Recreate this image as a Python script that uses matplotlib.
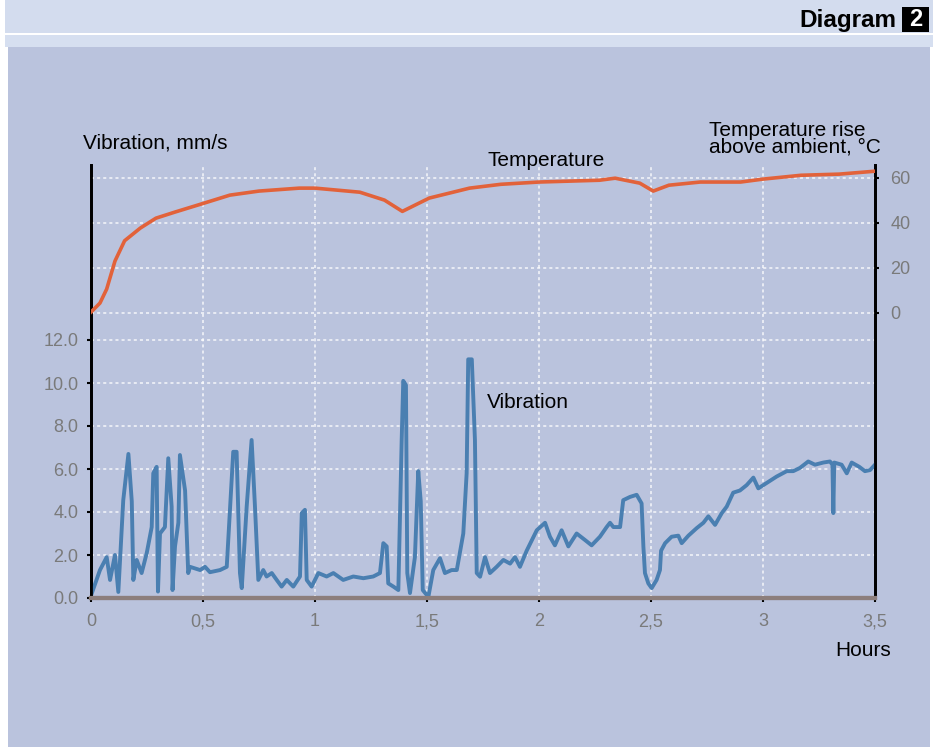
import numpy as np
import matplotlib.pyplot as plt
from matplotlib.patches import Rectangle
from matplotlib.ticker import FixedLocator, FixedFormatter

plt.rcParams['font.family'] = ['Liberation Sans', 'DejaVu Sans']

# vibration, mm/s against running time in hours
vib_hours = [0.003, 0.040, 0.070, 0.085, 0.107, 0.122, 0.144, 0.167, 0.182, 0.189,
             0.204, 0.226, 0.249, 0.271, 0.278, 0.293, 0.299, 0.308, 0.330, 0.345,
             0.360, 0.364, 0.375, 0.390, 0.397, 0.420, 0.434, 0.442, 0.487, 0.509,
             0.531, 0.576, 0.606, 0.621, 0.635, 0.650, 0.665, 0.673, 0.695, 0.717,
             0.732, 0.747, 0.769, 0.784, 0.807, 0.829, 0.851, 0.874, 0.903, 0.933,
             0.941, 0.955, 0.963, 0.985, 1.015, 1.052, 1.082, 1.126, 1.171, 1.216,
             1.260, 1.290, 1.305, 1.320, 1.327, 1.350, 1.372, 1.387, 1.394, 1.406,
             1.412, 1.424, 1.446, 1.461, 1.472, 1.481, 1.506, 1.528, 1.558, 1.580,
             1.610, 1.633, 1.662, 1.677, 1.684, 1.700, 1.714, 1.722, 1.737, 1.759,
             1.781, 1.811, 1.841, 1.871, 1.893, 1.915, 1.945, 1.990, 2.027, 2.049,
             2.071, 2.101, 2.131, 2.168, 2.205, 2.235, 2.272, 2.302, 2.317, 2.332,
             2.362, 2.376, 2.406, 2.436, 2.458, 2.466, 2.473, 2.488, 2.503, 2.525,
             2.540, 2.545, 2.563, 2.592, 2.622, 2.637, 2.667, 2.704, 2.734, 2.756,
             2.786, 2.816, 2.838, 2.867, 2.897, 2.927, 2.957, 2.979, 3.016, 3.061,
             3.106, 3.135, 3.165, 3.202, 3.232, 3.269, 3.299, 3.310, 3.314, 3.318,
             3.351, 3.374, 3.396, 3.430, 3.455, 3.478, 3.500]
vib_values = [0.2, 1.3, 1.9, 0.84, 2.0, 0.28, 4.55, 6.7, 4.5, 0.84,
              1.77, 1.16, 2.1, 3.3, 5.8, 6.1, 0.3, 3.0, 3.3, 6.5,
              4.25, 0.37, 2.4, 3.5, 6.65, 5.0, 1.16, 1.45, 1.3, 1.45,
              1.2, 1.3, 1.45, 4.25, 6.8, 6.8, 1.16, 0.46, 4.25, 7.35,
              4.25, 0.84, 1.3, 1.0, 1.16, 0.84, 0.53, 0.84, 0.53, 1.0,
              3.95, 4.1, 0.84, 0.53, 1.16, 1.0, 1.16, 0.84, 1.0, 0.92,
              1.0, 1.16, 2.55, 2.4, 0.68, 0.53, 0.37, 7.35, 10.1, 9.9,
              1.16, 0.23, 1.9, 5.9, 4.5, 0.37, 0.05, 1.3, 1.85, 1.16,
              1.3, 1.3, 3.0, 5.8, 11.1, 11.1, 7.35, 1.16, 0.99, 1.9,
              1.16, 1.45, 1.77, 1.6, 1.9, 1.45, 2.2, 3.15, 3.5, 2.85,
              2.45, 3.15, 2.4, 3.0, 2.7, 2.45, 2.85, 3.3, 3.5, 3.3,
              3.3, 4.55, 4.7, 4.8, 4.4, 2.4, 1.16, 0.68, 0.46, 0.84,
              1.3, 2.2, 2.55, 2.85, 2.9, 2.55, 2.9, 3.25, 3.5, 3.8,
              3.4, 3.95, 4.25, 4.9, 5.0, 5.25, 5.6, 5.1, 5.35, 5.65,
              5.9, 5.9, 6.05, 6.35, 6.2, 6.3, 6.35, 6.2, 3.95, 6.3,
              6.2, 5.8, 6.3, 6.1, 5.9, 5.95, 6.2]

# temperature rise above ambient, deg C
temp_hours = [0.0, 0.04, 0.07, 0.107, 0.15, 0.22, 0.29, 0.375, 0.49, 0.62,
              0.75, 0.93, 1.0, 1.2, 1.31, 1.39, 1.51, 1.69, 1.83, 2.0,
              2.27, 2.34, 2.45, 2.51, 2.58, 2.72, 2.9, 3.0, 3.17, 3.34, 3.5]
temp_values = [0.4, 4.4, 10.6, 23.0, 32.0, 37.6, 42.0, 44.7, 48.2, 52.2,
               54.0, 55.3, 55.3, 53.5, 50.0, 45.0, 50.9, 55.3, 57.0, 58.0,
               58.8, 59.7, 57.5, 54.0, 56.6, 58.0, 58.0, 59.3, 61.0, 61.5, 62.8]

hour_ticks = [0, 0.5, 1, 1.5, 2, 2.5, 3, 3.5]
hour_labels = ['0', '0,5', '1', '1,5', '2', '2,5', '3', '3,5']
vib_ticks = [0, 2, 4, 6, 8, 10, 12]
vib_labels = ['0.0', '2.0', '4.0', '6.0', '8.0', '10.0', '12.0']
temp_ticks = [0, 20, 40, 60]
temp_labels = ['0', '20', '40', '60']

W, H = 936, 751
fig = plt.figure(figsize=(W / 100, H / 100), dpi=100)
fig.patch.set_facecolor('white')


def px(x, y):
    return x / W, 1 - y / H


# background layer in pixel units: header band, panel, number box
bg = fig.add_axes([0, 0, 1, 1], zorder=-1)
bg.set_xlim(0, W)
bg.set_ylim(H, 0)
bg.axis('off')
bg.add_patch(Rectangle((5, 0), 928, 33, facecolor='#d3dcee', edgecolor='none'))
bg.add_patch(Rectangle((5, 35), 928, 12, facecolor='#d6dff0', edgecolor='none'))
bg.add_patch(Rectangle((8, 47), 922, 700, facecolor='#bac3dd', edgecolor='none'))
bg.add_patch(Rectangle((902, 7), 27, 25, facecolor='black', edgecolor='none'))
bg.text(896, 20, 'Diagram', ha='right', va='center', fontsize=17.5, fontweight='bold')
bg.text(915.5, 20, '2', ha='center', va='center', fontsize=17, fontweight='bold',
        color='white')

ax = fig.add_axes([91 / W, 1 - 598 / H, 784 / W, 433 / H])
ax.patch.set_alpha(0)
ax2 = ax.twinx()

ax.set_xlim(0, 3.5)
ax.set_ylim(0, (598 - 165) / 21.5)
ax2.set_ylim(-(598 - 313) / 2.258, (313 - 165) / 2.258)

# white dotted grid on both scales
grid_kw = dict(color='white', lw=1.1, ls=(0, (2, 2)), alpha=0.85, zorder=0.5)
for t in hour_ticks[1:-1]:
    ax.axvline(t, **grid_kw)
for t in vib_ticks[1:]:
    ax.axhline(t, **grid_kw)
for t in temp_ticks:
    ax2.axhline(t, **grid_kw)

ax.plot(vib_hours, vib_values, color='#4a7fb1', lw=2.8, solid_joinstyle='round', zorder=3)
ax2.plot(temp_hours, temp_values, color='#e2623a', lw=2.6, solid_joinstyle='round', zorder=3)

ax.xaxis.set_major_locator(FixedLocator(hour_ticks))
ax.xaxis.set_major_formatter(FixedFormatter(hour_labels))
ax.yaxis.set_major_locator(FixedLocator(vib_ticks))
ax.yaxis.set_major_formatter(FixedFormatter(vib_labels))
ax2.yaxis.set_major_locator(FixedLocator(temp_ticks))
ax2.yaxis.set_major_formatter(FixedFormatter(temp_labels))

tick_kw = dict(length=3, width=1.5, color='black', labelcolor='#7a7a7a', labelsize=13)
ax.tick_params(axis='x', pad=8, **tick_kw)
ax.tick_params(axis='y', pad=6, **tick_kw)
ax2.tick_params(axis='y', pad=8, **tick_kw)

for a in (ax, ax2):
    a.spines['top'].set_visible(False)
    a.spines['left'].set_color('black')
    a.spines['left'].set_linewidth(2)
    a.spines['right'].set_color('black')
    a.spines['right'].set_linewidth(2)
    a.spines['bottom'].set_color('#8c7e7c')
    a.spines['bottom'].set_linewidth(3)

fig.text(*px(83, 143), 'Vibration, mm/s', ha='left', va='center', fontsize=15)
fig.text(*px(709, 139), 'Temperature rise\nabove ambient, °C', ha='left', va='center',
         fontsize=15, linespacing=0.85)
fig.text(*px(487, 160), 'Temperature', ha='left', va='center', fontsize=15)
fig.text(*px(487, 403), 'Vibration', ha='left', va='center', fontsize=15)
fig.text(*px(835, 651), 'Hours', ha='left', va='center', fontsize=15)

fig.savefig('out.png', dpi=100)
